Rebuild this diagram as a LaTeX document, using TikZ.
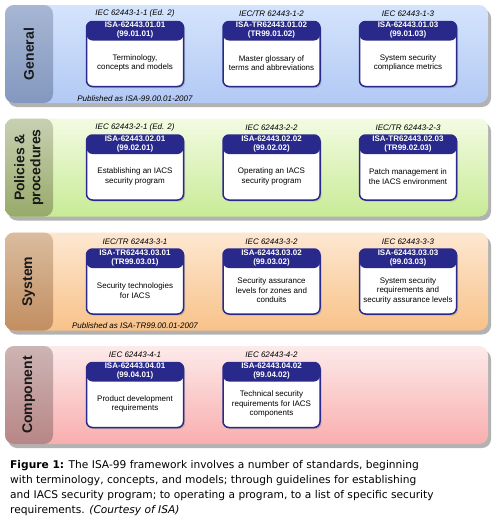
\documentclass[tikz,border=0pt]{standalone}
\usepackage{fontspec}
\setmainfont{Liberation Sans}
\newfontfamily\capfont{DejaVu Sans}
\usetikzlibrary{positioning,shadows}

\definecolor{boxnavy}{HTML}{28298A}
\definecolor{gentop}{HTML}{D5E4FD}
\definecolor{genbot}{HTML}{B2C9F4}
\definecolor{genstriptop}{HTML}{A6B6D3}
\definecolor{genstripbot}{HTML}{8498BF}
\definecolor{poltop}{HTML}{F3FBE2}
\definecolor{polbot}{HTML}{C8EB96}
\definecolor{polstriptop}{HTML}{C8D0B2}
\definecolor{polstripbot}{HTML}{98AA6A}
\definecolor{systop}{HTML}{FDE7D1}
\definecolor{sysbot}{HTML}{F8C289}
\definecolor{sysstriptop}{HTML}{DABC9F}
\definecolor{sysstripbot}{HTML}{C28E60}
\definecolor{comptop}{HTML}{FDEAEA}
\definecolor{compbot}{HTML}{F9AEAE}
\definecolor{compstriptop}{HTML}{CDB4B4}
\definecolor{compstripbot}{HTML}{B88686}

\tikzset{
  band/.style n args={4}{rounded corners=9pt, minimum width=483pt, minimum height=98pt,
    inner sep=0pt, top color=#1, bottom color=#2,
    drop shadow={shadow xshift=3pt, shadow yshift=-4pt, opacity=.6},
    path picture={\shade[top color=#3, bottom color=#4]
      (path picture bounding box.north west) rectangle ([xshift=48pt]path picture bounding box.south west);}},
  std/.style={draw=boxnavy, line width=1.5pt, rounded corners=6pt, fill=white,
    minimum width=97pt, minimum height=65pt, inner sep=0pt,
    drop shadow={shadow xshift=1.5pt, shadow yshift=-1.5pt, opacity=.35},
    path picture={\fill[boxnavy] (path picture bounding box.north west)
      rectangle ([yshift=-19pt]path picture bounding box.north east);}},
  layer/.style={rotate=90, text=black!90, font=\bfseries\fontsize{14}{16}\selectfont, align=center, inner sep=0pt},
  iec/.style={font=\itshape\fontsize{8}{9.5}\selectfont, inner sep=0pt},
  hdr/.style={text=white, font=\bfseries\fontsize{8}{9.3}\selectfont, align=center, inner sep=0pt},
  body/.style={font=\fontsize{8}{9.5}\selectfont, align=center, inner sep=0pt},
  pub/.style={font=\itshape\fontsize{8}{9.5}\selectfont, inner sep=0pt},
}

\begin{document}
\begin{tikzpicture}[x=1pt,y=-1pt]
    \useasboundingbox[fill=white] (0,0) rectangle (497,530);

    % layers
    \node[band={gentop}{genbot}{genstriptop}{genstripbot}]     (general)   at (246.5,54)    {};
    \node[band={poltop}{polbot}{polstriptop}{polstripbot}]     (policies)  at (246.5,167.5) {};
    \node[band={systop}{sysbot}{sysstriptop}{sysstripbot}]     (system)    at (246.5,281.5) {};
    \node[band={comptop}{compbot}{compstriptop}{compstripbot}] (component) at (246.5,395)   {};

    \node[layer] (generalname)   at ([xshift=24pt]general.west)   {General};
    \node[layer] (policiesname)  at ([xshift=24pt]policies.west)  {Policies \&\\procedures};
    \node[layer] (systemname)    at ([xshift=24pt]system.west)    {System};
    \node[layer] (componentname) at ([xshift=24pt]component.west) {Component};

    % General
    \node[std]                  (g1) at (135,54) {};
    \node[std, right=38pt of g1] (g2) {};
    \node[std, right=38pt of g2] (g3) {};
    \node[iec] (g1iec) at ([yshift=7pt]g1.north) {IEC 62443-1-1 (Ed. 2)};
    \node[iec] (g2iec) at ([yshift=7pt]g2.north) {IEC/TR 62443-1-2};
    \node[iec] (g3iec) at ([yshift=7pt]g3.north) {IEC 62443-1-3};
    \node[hdr] (g1hdr) at ([yshift=-9.5pt]g1.north) {ISA-62443.01.01\\(99.01.01)};
    \node[hdr] (g2hdr) at ([yshift=-9.5pt]g2.north) {ISA-TR62443.01.02\\(TR99.01.02)};
    \node[hdr] (g3hdr) at ([yshift=-9.5pt]g3.north) {ISA-62443.01.03\\(99.01.03)};
    \node[body] (g1txt) at ([yshift=-9pt]g1.center) {Terminology,\\concepts and models};
    \node[body] (g2txt) at ([yshift=-9pt]g2.center) {Master glossary of\\terms and abbreviations};
    \node[body] (g3txt) at ([yshift=-9pt]g3.center) {System security\\compliance metrics};
    \node[pub] (g1pub) at ([yshift=-11pt]g1.south) {Published as ISA-99.00.01-2007};

    % Policies & procedures
    \node[std]                  (p1) at (135,167.5) {};
    \node[std, right=38pt of p1] (p2) {};
    \node[std, right=38pt of p2] (p3) {};
    \node[iec] (p1iec) at ([yshift=7pt]p1.north) {IEC 62443-2-1 (Ed. 2)};
    \node[iec] (p2iec) at ([yshift=7pt]p2.north) {IEC 62443-2-2};
    \node[iec] (p3iec) at ([yshift=7pt]p3.north) {IEC/TR 62443-2-3};
    \node[hdr] (p1hdr) at ([yshift=-9.5pt]p1.north) {ISA-62443.02.01\\(99.02.01)};
    \node[hdr] (p2hdr) at ([yshift=-9.5pt]p2.north) {ISA-62443.02.02\\(99.02.02)};
    \node[hdr] (p3hdr) at ([yshift=-9.5pt]p3.north) {ISA-TR62443.02.03\\(TR99.02.03)};
    \node[body] (p1txt) at ([yshift=-9pt]p1.center) {Establishing an IACS\\security program};
    \node[body] (p2txt) at ([yshift=-9pt]p2.center) {Operating an IACS\\security program};
    \node[body] (p3txt) at ([yshift=-9pt]p3.center) {Patch management in\\the IACS environment};

    % System
    \node[std]                  (s1) at (135,281.5) {};
    \node[std, right=38pt of s1] (s2) {};
    \node[std, right=38pt of s2] (s3) {};
    \node[iec] (s1iec) at ([yshift=7pt]s1.north) {IEC/TR 62443-3-1};
    \node[iec] (s2iec) at ([yshift=7pt]s2.north) {IEC 62443-3-2};
    \node[iec] (s3iec) at ([yshift=7pt]s3.north) {IEC 62443-3-3};
    \node[hdr] (s1hdr) at ([yshift=-9.5pt]s1.north) {ISA-TR62443.03.01\\(TR99.03.01)};
    \node[hdr] (s2hdr) at ([yshift=-9.5pt]s2.north) {ISA-62443.03.02\\(99.03.02)};
    \node[hdr] (s3hdr) at ([yshift=-9.5pt]s3.north) {ISA-62443.03.03\\(99.03.03)};
    \node[body] (s1txt) at ([yshift=-9pt]s1.center) {Security technologies\\for IACS};
    \node[body] (s2txt) at ([yshift=-9pt]s2.center) {Security assurance\\levels for zones and\\conduits};
    \node[body] (s3txt) at ([yshift=-9pt]s3.center) {System security\\requirements and\\security assurance levels};
    \node[pub] (s1pub) at ([yshift=-11pt]s1.south) {Published as ISA-TR99.00.01-2007};

    % Component
    \node[std]                  (c1) at (135,395) {};
    \node[std, right=38pt of c1] (c2) {};
    \node[iec] (c1iec) at ([yshift=7pt]c1.north) {IEC 62443-4-1};
    \node[iec] (c2iec) at ([yshift=7pt]c2.north) {IEC 62443-4-2};
    \node[hdr] (c1hdr) at ([yshift=-9.5pt]c1.north) {ISA-62443.04.01\\(99.04.01)};
    \node[hdr] (c2hdr) at ([yshift=-9.5pt]c2.north) {ISA-62443.04.02\\(99.04.02)};
    \node[body] (c1txt) at ([yshift=-9pt]c1.center) {Product development\\requirements};
    \node[body] (c2txt) at ([yshift=-9pt]c2.center) {Technical security\\requirements for IACS\\components};

    % caption
    \node[anchor=north west, inner sep=0pt, align=left, font=\capfont\fontsize{10.65}{15}\selectfont]
      (caption) at (10,460) {\textbf{Figure 1:} The ISA-99 framework involves a number of standards, beginning\\
      with terminology, concepts, and models; through guidelines for establishing\\
      and IACS security program; to operating a program, to a list of specific security\\
      requirements. \textit{(Courtesy of ISA)}};
\end{tikzpicture}
\end{document}
